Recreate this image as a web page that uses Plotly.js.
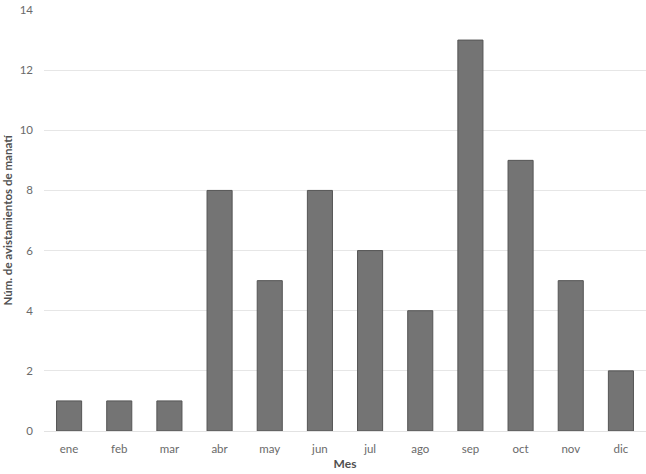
<!DOCTYPE html>
<html><head><meta charset="utf-8">
<script src="https://cdn.plot.ly/plotly-3.0.1.min.js"></script>
<style>html,body{margin:0;padding:0;background:#fff}</style>
</head><body><div id="chart" style="width:646px;height:474px"></div>
<script>
const months = ["ene","feb","mar","abr","may","jun","jul","ago","sep","oct","nov","dic"];
const sightings = [1,1,1,8,5,8,6,4,13,9,5,2];
const yTicks = [0,2,4,6,8,10,12,14];

Plotly.newPlot("chart", [{
  type: "bar",
  x: months,
  y: sightings,
  width: 0.5,
  marker: {color: "#747474", line: {color: "#555555", width: 1}},
  hoverinfo: "x+y"
}], {
  width: 646, height: 474,
  margin: {l: 44, r: 0, t: 10, b: 43},
  paper_bgcolor: "#fff", plot_bgcolor: "#fff",
  font: {family: "Lato, 'Open Sans', sans-serif", size: 11, color: "#6a6a6a"},
  showlegend: false,
  xaxis: {
    type: "category", showgrid: false, zeroline: false, showline: false,
    ticks: "", ticklen: 0, ticklabelstandoff: 9, tickfont: {size: 11.5, color: "#6a6a6a"},
    title: {text: "Mes", font: {size: 12, color: "#505050", weight: "bold"}, standoff: 6}
  },
  yaxis: {
    range: [0, 14], tickvals: yTicks, ticktext: yTicks.map(String),
    showgrid: true, gridcolor: "#e6e6e6", gridwidth: 1,
    zeroline: true, zerolinecolor: "#e2e2e2", showline: false, ticks: "",
    ticklabelstandoff: 10,
    tickfont: {size: 11.5, color: "#6a6a6a"},
    title: {text: "Núm. de avistamientos de manatí", font: {size: 11.5, color: "#505050", weight: "bold"}, standoff: 4}
  }
}, {staticPlot: true});
</script></body></html>
